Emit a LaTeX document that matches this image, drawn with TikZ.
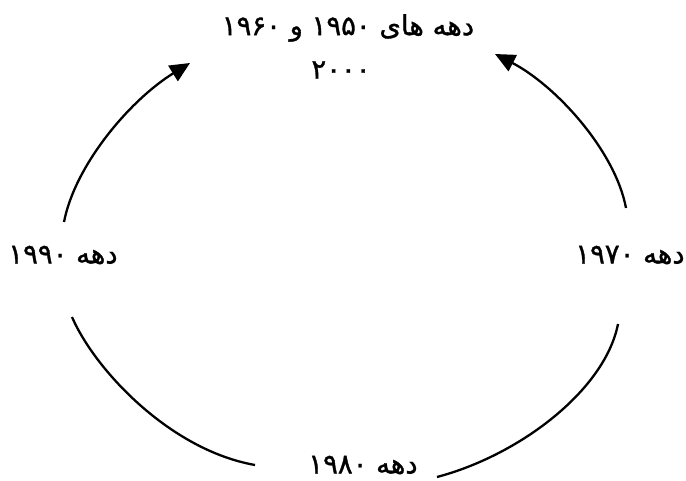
\documentclass[tikz,border=0pt]{standalone}
\usepackage{fontspec}
\newfontfamily\arabicfont[Script=Arabic,FakeBold=1.2]{DejaVu Sans}
\TeXXeTstate=1
\usetikzlibrary{arrows.meta}
\begin{document}
\begin{tikzpicture}[x=1pt,y=-1pt,
  lbl/.style={inner sep=0pt,font=\arabicfont\fontsize{27.5}{32}\selectfont},
  arc/.style={line width=2.3pt},
  arcarrow/.style={arc,-{Triangle[length=20pt,width=18pt]}}]
\useasboundingbox (0,0) rectangle (686,481);
\node[lbl] (top1) at (348,28) {\beginR دهه های \beginL ۱۹۵۰\endL{} و \beginL ۱۹۶۰\endL\endR};
\node[lbl] (top2) at (341,70) {\beginR\beginL ۲۰۰۰\endL\endR};
\node[lbl] (left) at (63,255) {\beginR دهه \beginL ۱۹۹۰\endL\endR};
\node[lbl] (right) at (630,255) {\beginR دهه \beginL ۱۹۷۰\endL\endR};
\node[lbl] (bottom) at (363,465) {\beginR دهه \beginL ۱۹۸۰\endL\endR};
\coordinate (la) at (64,222);
\coordinate (lt) at (190,63);
\coordinate (ra) at (626,208);
\coordinate (rt) at (495,54);
\coordinate (lb) at (72,317);
\coordinate (lbe) at (255,465);
\coordinate (rb) at (618,324);
\coordinate (rbe) at (437,477);
\draw[arcarrow] (la) .. controls (75,165) and (130,100) .. (lt);
\draw[arcarrow] (ra) .. controls (615,150) and (555,85) .. (rt);
\draw[arc] (lb) .. controls (95,370) and (170,450) .. (lbe);
\draw[arc] (rb) .. controls (605,390) and (520,455) .. (rbe);
\end{tikzpicture}
\end{document}
